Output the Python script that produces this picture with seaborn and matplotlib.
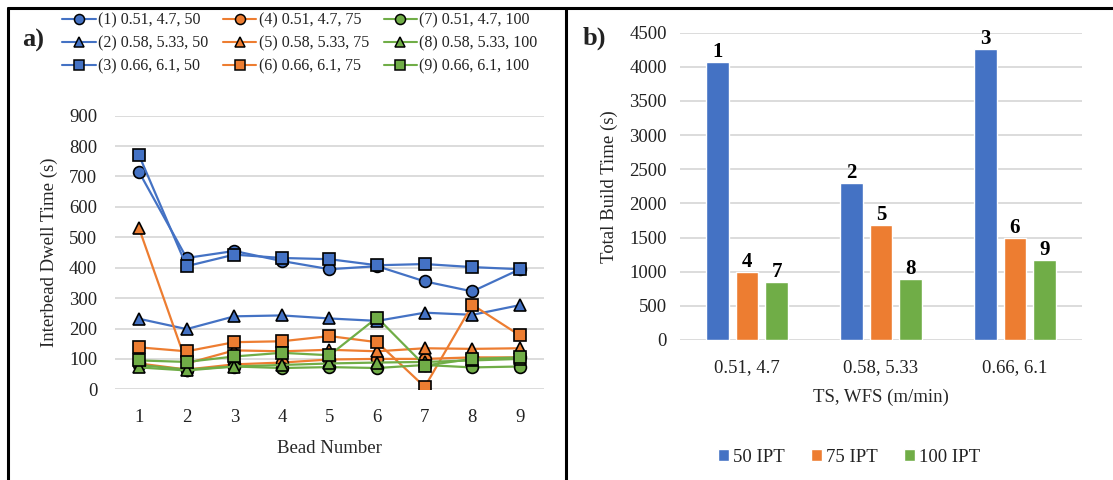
import matplotlib
matplotlib.use("Agg")
import matplotlib.pyplot as plt
import seaborn as sns
import pandas as pd
from matplotlib.lines import Line2D

# ---- data -------------------------------------------------------------
beads = [1, 2, 3, 4, 5, 6, 7, 8, 9]

dwell_1 = [715, 432, 455, 422, 395, 405, 355, 322, 395]
dwell_2 = [232, 198, 240, 243, 233, 225, 252, 245, 277]
dwell_3 = [770, 405, 443, 432, 428, 408, 412, 402, 395]
dwell_4 = [85, 65, 82, 88, 98, 100, 100, 105, 105]
dwell_5 = [530, 85, 128, 125, 130, 125, 135, 133, 135]
dwell_6 = [138, 125, 155, 158, 175, 155, 8, 278, 177]
dwell_7 = [80, 65, 75, 70, 73, 70, 80, 72, 75]
dwell_8 = [72, 62, 75, 80, 85, 88, 90, 95, 100]
dwell_9 = [95, 90, 108, 120, 112, 236, 78, 100, 105]

series_labels = [
    "(1) 0.51, 4.7, 50", "(2) 0.58, 5.33, 50", "(3) 0.66, 6.1, 50",
    "(4) 0.51, 4.7, 75", "(5) 0.58, 5.33, 75", "(6) 0.66, 6.1, 75",
    "(7) 0.51, 4.7, 100", "(8) 0.58, 5.33, 100", "(9) 0.66, 6.1, 100",
]

build_categories = ["0.51, 4.7", "0.58, 5.33", "0.66, 6.1"]
ipt_labels = ["50 IPT", "75 IPT", "100 IPT"]
build_50 = [4075, 2300, 4255]
build_75 = [1000, 1680, 1500]
build_100 = [855, 895, 1170]
bar_numbers = [["1", "2", "3"], ["4", "5", "6"], ["7", "8", "9"]]

# ---- style ------------------------------------------------------------
sns.set_style("white")
plt.rcParams["font.family"] = ["Liberation Serif", "DejaVu Serif"]
plt.rcParams["text.color"] = "#222222"

BLUE, ORANGE, GREEN = "#4472C4", "#ED7D31", "#70AD47"
GRID = "#D9D9D9"
W, H = 1113, 480

fig = plt.figure(figsize=(W / 100, H / 100), dpi=100)


def fig_box(x0, y0, x1, y1):
    """Pixel box (top-left origin) -> figure fraction rect."""
    return [x0 / W, 1 - y1 / H, (x1 - x0) / W, (y1 - y0) / H]


# ---- (a) interbead dwell time ----------------------------------------
ax1 = fig.add_axes(fig_box(115.2, 115.7, 543.8, 389.3))
series = [dwell_1, dwell_2, dwell_3, dwell_4, dwell_5,
          dwell_6, dwell_7, dwell_8, dwell_9]
colors = [BLUE] * 3 + [ORANGE] * 3 + [GREEN] * 3
markers = ["o", "^", "s"] * 3
msizes = {"o": 8.5, "^": 8, "s": 8.5}

for vals, c, m, lab in zip(series, colors, markers, series_labels):
    sns.lineplot(x=beads, y=vals, ax=ax1, color=c, marker=m,
                 markersize=msizes[m], markeredgecolor="black",
                 markeredgewidth=1.2, linewidth=1.6, label=lab,
                 legend=False, errorbar=None)

ax1.set_xlim(0.5, 9.5)
ax1.set_ylim(0, 900)
ax1.set_xticks(beads)
ax1.set_yticks(range(0, 901, 100))
ax1.grid(axis="y", color=GRID, linewidth=1.3)
ax1.set_axisbelow(True)
for s in ax1.spines.values():
    s.set_visible(False)
ax1.tick_params(axis="both", length=0, labelsize=13.5, colors="#222222")
ax1.tick_params(axis="y", pad=13)
ax1.tick_params(axis="x", pad=14)
ax1.set_xlabel("Bead Number", fontsize=13.5, labelpad=10)
ax1.set_ylabel("Interbead Dwell Time (s)", fontsize=13.5, labelpad=8)

handles = [Line2D([], [], color=c, marker=m, markersize=msizes[m] * 0.85,
                  markeredgecolor="black", markeredgewidth=1.1, linewidth=1.5)
           for c, m in zip(colors, markers)]
fig.legend(handles, series_labels, ncol=3, loc="upper left",
           bbox_to_anchor=(56 / W, 1 - 6 / H), frameon=False,
           fontsize=11.5, handlelength=2.1, handletextpad=0.15,
           columnspacing=0.9, labelspacing=0.45, borderaxespad=0)

fig.text(22 / W, 1 - 40 / H, "a)", fontsize=19, fontweight="bold",
         va="center", ha="left")

# ---- (b) total build time ---------------------------------------------
ax2 = fig.add_axes(fig_box(680, 32.7, 1082, 340))
bars = pd.DataFrame({
    "category": build_categories * 3,
    "ipt": [ipt_labels[0]] * 3 + [ipt_labels[1]] * 3 + [ipt_labels[2]] * 3,
    "value": build_50 + build_75 + build_100,
})
sns.barplot(data=bars, x="category", y="value", hue="ipt",
            hue_order=ipt_labels, order=build_categories,
            palette=[BLUE, ORANGE, GREEN], saturation=1,
            width=0.665, gap=0.24, ax=ax2, legend=True)

for cont, nums in zip(ax2.containers, bar_numbers):
    ax2.bar_label(cont, labels=nums, fontsize=15, fontweight="bold",
                  padding=0, color="black")

ax2.set_xlim(-0.5, 2.5)
ax2.set_ylim(0, 4500)
ax2.set_yticks(range(0, 4501, 500))
ax2.grid(axis="y", color=GRID, linewidth=1.3)
ax2.set_axisbelow(True)
for s in ax2.spines.values():
    s.set_visible(False)
ax2.tick_params(axis="both", length=0, labelsize=13.5, colors="#222222")
ax2.tick_params(axis="y", pad=9.5)
ax2.tick_params(axis="x", pad=14)
ax2.set_xlabel("TS, WFS (m/min)", fontsize=13.5, labelpad=9)
ax2.set_ylabel("Total Build Time (s)", fontsize=13.5, labelpad=8)

bh, bl = ax2.get_legend_handles_labels()
ax2.get_legend().remove()
fig.legend(bh, bl, ncol=3, loc="center", bbox_to_anchor=(849 / W, 1 - 457 / H),
           frameon=False, fontsize=13.5, handlelength=0.6, handleheight=0.6,
           handletextpad=0.2, columnspacing=1.4)

fig.text(583 / W, 1 - 38 / H, "b)", fontsize=19, fontweight="bold",
         va="center", ha="left")

# ---- panel frame --------------------------------------------------------
frame_kw = dict(color="black", linewidth=2.2, transform=fig.transFigure)
fig.add_artist(Line2D([8 / W, 8 / W], [0, 1 - 8 / H], **frame_kw))
fig.add_artist(Line2D([8 / W, 1], [1 - 8 / H, 1 - 8 / H], **frame_kw))
fig.add_artist(Line2D([566 / W, 566 / W], [0, 1 - 8 / H], **frame_kw))

fig.savefig("out.png", dpi=100)
